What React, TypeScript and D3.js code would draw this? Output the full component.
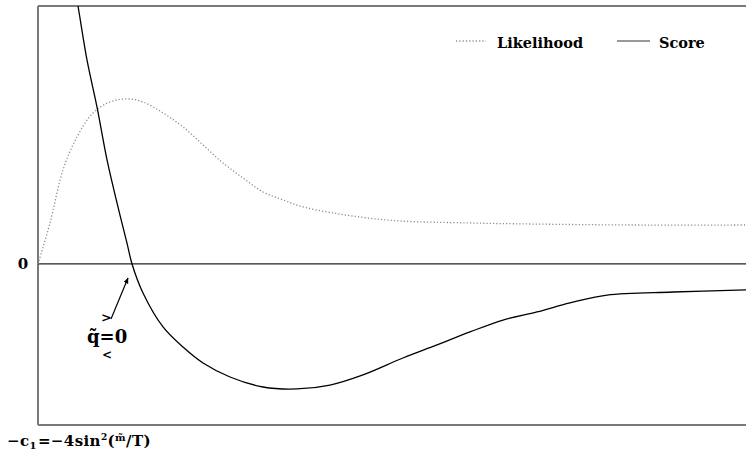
import React from "react";
import * as d3 from "d3";

// x in abstract units 0..10, y in units (0 = zero line)
const likelihoodX = [0, 0.17, 0.353, 0.551, 0.777, 1.017, 1.257, 1.483, 1.766, 2.048, 2.331, 2.613, 2.895, 3.178, 3.46, 3.743, 4.167, 4.647, 5.113, 6.059, 6.992, 8.404, 10];
const likelihoodY = [0, 0.255, 0.584, 0.789, 0.938, 1.006, 1.025, 1.006, 0.938, 0.851, 0.739, 0.627, 0.534, 0.447, 0.398, 0.354, 0.317, 0.286, 0.267, 0.255, 0.248, 0.242, 0.242];

const scoreX = [0.452, 0.565, 0.692, 0.833, 0.975, 1.116, 1.257, 1.328, 1.483, 1.766, 2.048, 2.331, 2.712, 3.178, 3.658, 4.124, 4.59, 5.155, 5.636, 6.102, 6.568, 7.048, 7.514, 8.037, 8.969, 10];
const scoreY = [1.888, 1.602, 1.267, 0.975, 0.646, 0.379, 0.13, 0, -0.18, -0.391, -0.516, -0.615, -0.702, -0.764, -0.776, -0.752, -0.689, -0.584, -0.503, -0.422, -0.348, -0.298, -0.242, -0.193, -0.174, -0.161];

const yTickLabels = ["0"];
const legendLabels = ["Likelihood", "Score"];

const W = 746, H = 460;
const L = 38, R = 746, T = 6, B = 425;

export default function App() {
  const x = d3.scaleLinear().domain([0, 10]).range([L, R]);
  const y = d3.scaleLinear().domain([-1, 1.602]).range([B, T]);

  const lik = likelihoodX.map((v, i) => [v, likelihoodY[i]] as [number, number]);
  const sco = scoreX.map((v, i) => [v, scoreY[i]] as [number, number]);

  const line = d3
    .line<[number, number]>()
    .x((d) => x(d[0]))
    .y((d) => y(d[1]))
    .curve(d3.curveCatmullRom.alpha(0.5));

  const font = "'DejaVu Serif', serif";
  const y0 = y(0);

  return (
    <svg
      width={W}
      height={H}
      style={{ position: "absolute", left: 0, top: 0, background: "#fff" }}
      fontFamily={font}
    >
      <defs>
        <clipPath id="plot">
          <rect x={L} y={T} width={R - L} height={B - T} />
        </clipPath>
        <marker id="arr" viewBox="0 0 10 10" refX="9" refY="5" markerWidth="5" markerHeight="5" orient="auto">
          <path d="M0,1 L10,5 L0,9 z" fill="#000" />
        </marker>
      </defs>

      {/* frame */}
      <line x1={L} x2={R} y1={T} y2={T} stroke="#7a7a7a" strokeWidth={2} />
      <line x1={L} x2={R} y1={B} y2={B} stroke="#7a7a7a" strokeWidth={2} />
      <line x1={L} x2={L} y1={T} y2={B} stroke="#7a7a7a" strokeWidth={2} />

      {/* zero line */}
      <line x1={L} x2={R} y1={y0} y2={y0} stroke="#222" strokeWidth={1.3} />
      {yTickLabels.map((t) => (
        <text key={t} x={23} y={y0 + 5.5} textAnchor="middle" fontSize={15} fontWeight="bold">
          {t}
        </text>
      ))}

      <g clipPath="url(#plot)">
        <path d={line(lik) || ""} fill="none" stroke="#8a8a8a" strokeWidth={1.3} strokeDasharray="1.2 2.1" />
        <path d={line(sco) || ""} fill="none" stroke="#000" strokeWidth={1.3} />
      </g>

      {/* legend */}
      <line x1={456} x2={486} y1={41} y2={41} stroke="#8a8a8a" strokeWidth={1.3} strokeDasharray="1.2 2.1" />
      <text x={497} y={48} fontSize={14.5} fontWeight="bold">{legendLabels[0]}</text>
      <line x1={617} x2={650} y1={41} y2={41} stroke="#777" strokeWidth={1.6} />
      <text x={659} y={48} fontSize={14.5} fontWeight="bold">{legendLabels[1]}</text>

      {/* annotation */}
      <line x1={111} y1={319} x2={128} y2={278} stroke="#000" strokeWidth={1.2} markerEnd="url(#arr)" />
      <text x={87} y={343} fontSize={18} fontWeight="bold">{"q\u0303=0"}</text>
      <text x={101} y={322} fontSize={13} fontWeight="bold">&gt;</text>
      <text x={102} y={359} fontSize={12} fontWeight="bold">&lt;</text>

      {/* bottom label */}
      <text x={7} y={446} fontSize={15} fontWeight="bold" letterSpacing={0.4}>
        <tspan>−c</tspan>
        <tspan fontSize={10} dy={3}>1</tspan>
        <tspan dy={-3} dx={1}>=−4sin</tspan>
        <tspan fontSize={9} dy={-6}>2</tspan>
        <tspan dy={6}>(</tspan>
        <tspan fontSize={10} dy={-5}>{"m\u0303"}</tspan>
        <tspan dy={5}>/T)</tspan>
      </text>
    </svg>
  );
}
